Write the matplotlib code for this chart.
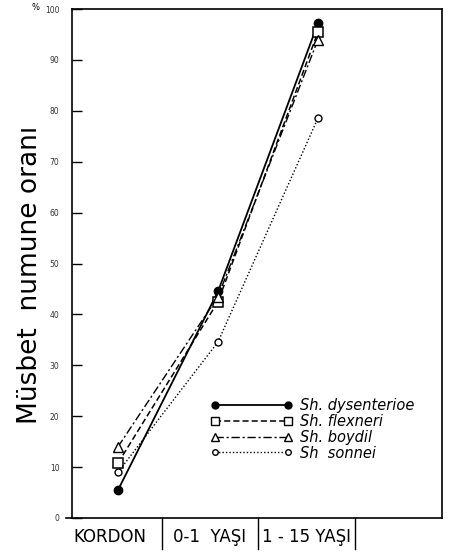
import matplotlib.pyplot as plt
from matplotlib.lines import Line2D

# categories along the bottom and the four Shigella series (% positive samples)
categories = ["KORDON", "0-1  YAŞI", "1 - 15 YAŞI"]
dysenteriae = [5.5, 44.5, 97.2]
flexneri = [10.8, 42.5, 95.5]
boydii = [14.0, 43.5, 94.0]
sonnei = [9.0, 34.6, 78.6]
series_labels = ["Sh. dysenterioe", "Sh. flexneri", "Sh. boydil", "Sh  sonnei"]
yticks = [0, 10, 20, 30, 40, 50, 60, 70, 80, 90, 100]


def main():
    fig = plt.figure(figsize=(4.54, 5.53), dpi=100)
    fig.patch.set_facecolor("white")
    ax = fig.add_axes([0.1586, 0.0633, 0.815, 0.9204])

    x = list(range(len(categories)))
    ax.plot(x, dysenteriae, color="black", lw=1.3, ls="-", marker="o",
            ms=6, mfc="black", mec="black")
    ax.plot(x, flexneri, color="black", lw=1.1, ls=(0, (4, 2)), marker="s",
            ms=6.5, mfc="white", mec="black", mew=1.1)
    ax.plot(x, boydii, color="black", lw=1.0, ls=(0, (6, 2, 1.5, 2)), marker="^",
            ms=7, mfc="white", mec="black", mew=1.0)
    ax.plot(x, sonnei, color="black", lw=1.0, ls=(0, (1, 1.5)), marker="o",
            ms=5, mfc="white", mec="black", mew=1.0)

    ax.set_xlim(-0.46, 3.24)
    ax.set_ylim(0, 100)
    ax.set_xticks([])
    ax.set_yticks(yticks)
    ax.set_yticklabels([str(t) for t in yticks], fontsize=5.5, color="#333333")
    ax.tick_params(axis="y", direction="in", length=7, width=1.0, pad=9)
    for sp in ax.spines.values():
        sp.set_linewidth(1.2)

    fig.text(36 / 454, 1 - 8 / 553, "%", fontsize=6, ha="center", va="center")

    # category labels below the axis with separators
    label_x = [-0.08, 0.92, 1.88]
    for lx, lab in zip(label_x, categories):
        ax.text(lx, -0.037, lab, transform=ax.get_xaxis_transform(),
                ha="center", va="center", fontsize=12)
    for sx in [0.44, 1.40, 2.37]:
        ax.plot([sx, sx], [0, -0.06], color="black", lw=1.0,
                transform=ax.get_xaxis_transform(), clip_on=False)
    # bottom line runs a little past the left axis, as in the print
    ax.plot([-0.52, -0.46], [0, 0], color="black", lw=1.2,
            transform=ax.get_xaxis_transform(), clip_on=False)

    fig.text(30 / 454, 1 - 275 / 553, "Müsbet  numune oranı", rotation=90,
             ha="center", va="center", fontsize=19)

    handles = [
        Line2D([], [], color="black", lw=1.3, ls="-", marker="o", ms=5,
               mfc="black"),
        Line2D([], [], color="black", lw=1.1, ls=(0, (4, 2)), marker="s", ms=5.5,
               mfc="white"),
        Line2D([], [], color="black", lw=1.0, ls=(0, (6, 2, 1.5, 2)), marker="^",
               ms=5.5, mfc="white"),
        Line2D([], [], color="black", lw=1.0, ls=(0, (1, 1.5)), marker="o", ms=4,
               mfc="white"),
    ]
    ax.legend(handles, series_labels, loc="upper left",
              bbox_to_anchor=(0.375, 0.235), frameon=False, numpoints=2,
              handlelength=5.6, handletextpad=0.5, labelspacing=0.05,
              borderpad=0, borderaxespad=0,
              prop={"style": "italic", "size": 10.5})

    fig.savefig("out.png", dpi=100, facecolor="white")
    plt.close(fig)


if __name__ == "__main__":
    main()
